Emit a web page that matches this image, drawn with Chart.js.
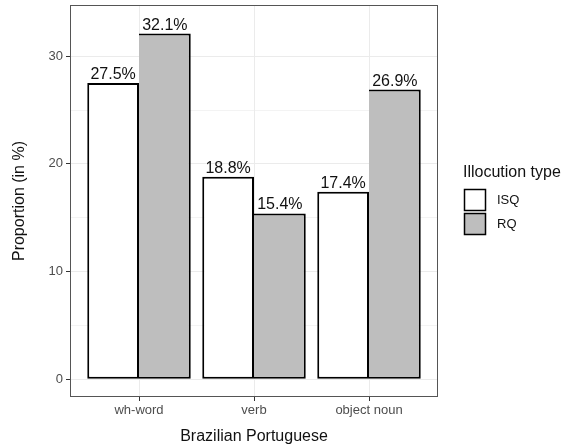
<!DOCTYPE html>
<html>
<head>
<meta charset="utf-8">
<script src="https://cdn.jsdelivr.net/npm/chart.js@4.4.1/dist/chart.umd.min.js"></script>
<style>
  html, body { margin: 0; padding: 0; background: #fff; }
  #wrap { width: 569px; height: 445px; }
</style>
</head>
<body>
<div id="wrap"><canvas id="myChart" width="569" height="445"></canvas></div>
<script>
const categories = ["wh-word", "verb", "object noun"];
const isqValues = [27.5, 18.8, 17.4];
const rqValues = [32.1, 15.4, 26.9];
const seriesNames = ["ISQ", "RQ"];
const seriesFills = ["#ffffff", "#bebebe"];
const yTicks = [0, 5, 10, 15, 20, 25, 30];

const FONT = "'Liberation Sans', Arial, Helvetica, sans-serif";

// value labels above bars + panel border + legend
const extras = {
  id: "extras",
  afterDatasetsDraw(chart) {
    const ctx = chart.ctx;
    ctx.save();
    ctx.font = "16px " + FONT;
    ctx.fillStyle = "#111";
    ctx.textAlign = "center";
    ctx.textBaseline = "alphabetic";
    chart.data.datasets.forEach((ds, di) => {
      const meta = chart.getDatasetMeta(di);
      meta.data.forEach((bar, i) => {
        ctx.fillText(ds.data[i].y.toFixed(1) + "%", bar.x, bar.y - 4);
      });
    });
    ctx.restore();
  },
  afterDraw(chart) {
    const ctx = chart.ctx;
    const a = chart.chartArea;
    ctx.save();
    ctx.strokeStyle = "#555";
    ctx.lineWidth = 1;
    ctx.strokeRect(a.left + 0.5, a.top + 0.5, a.right - a.left - 1, a.bottom - a.top - 1);

    // legend
    const lx = a.right + 25;
    ctx.fillStyle = "#111";
    ctx.font = "16px " + FONT;
    ctx.textAlign = "left";
    ctx.textBaseline = "middle";
    ctx.fillText("Illocution type", lx, 173);
    seriesNames.forEach((name, i) => {
      const ky = 188 + i * 24;
      ctx.fillStyle = seriesFills[i];
      ctx.fillRect(lx + 1, ky + 1, 22, 22);
      ctx.strokeStyle = "#000";
      ctx.lineWidth = 1.5;
      ctx.strokeRect(lx + 1.5, ky + 1.5, 21, 21);
      ctx.fillStyle = "#111";
      ctx.font = "13px " + FONT;
      ctx.fillText(name, lx + 34, ky + 12);
    });
    ctx.restore();
  }
};

function noPad(s) {
  s.paddingTop = 0; s.paddingBottom = 0; s.paddingLeft = 0; s.paddingRight = 0;
}

new Chart(document.getElementById("myChart"), {
  type: "bar",
  data: {
    datasets: [
      {
        label: seriesNames[0],
        data: isqValues.map((v, i) => ({ x: i, y: v })),
        backgroundColor: seriesFills[0],
        borderColor: "#000",
        borderWidth: 2,
        borderSkipped: false
      },
      {
        label: seriesNames[1],
        data: rqValues.map((v, i) => ({ x: i, y: v })),
        backgroundColor: seriesFills[1],
        borderColor: "#000",
        // shared edge with the ISQ bar is drawn once, by ISQ
        borderWidth: { top: 2, right: 2, bottom: 2, left: 0 },
        borderSkipped: false
      }
    ]
  },
  options: {
    responsive: false,
    animation: false,
    categoryPercentage: 0.9,
    barPercentage: 1.0,
    layout: { padding: { left: 0, top: 5, right: 131, bottom: 0 } },
    plugins: {
      legend: { display: false },
      tooltip: { enabled: false }
    },
    scales: {
      x: {
        type: "linear",
        min: -0.6,
        max: 2.6,
        offset: false,
        afterBuildTicks: (s) => { s.ticks = categories.map((c, i) => ({ value: i })); },
        afterFit: (s) => { s.height = 48; noPad(s); },
        ticks: {
          callback: (v) => categories[v],
          color: "#4d4d4d",
          font: { family: FONT, size: 13 },
          padding: 2,
          maxRotation: 0,
          autoSkip: false
        },
        grid: {
          offset: false,
          color: "#ebebeb",
          lineWidth: 1,
          tickColor: "#333",
          tickLength: 4
        },
        border: { display: false },
        title: {
          display: true,
          text: "Brazilian Portuguese",
          color: "#111",
          font: { family: FONT, size: 16, lineHeight: 1 },
          padding: { top: 0, bottom: 0 }
        }
      },
      y: {
        type: "linear",
        min: -1.655,
        max: 34.755,
        afterBuildTicks: (s) => { s.ticks = yTicks.map(v => ({ value: v })); },
        afterFit: (s) => { s.width = 70; noPad(s); },
        ticks: {
          callback: (v) => (v % 10 === 0 ? String(v) : ""),
          color: "#4d4d4d",
          font: { family: FONT, size: 13 },
          padding: 3,
          autoSkip: false
        },
        grid: {
          color: "#ebebeb",
          lineWidth: (c) => (c.tick && c.tick.value % 10 === 0 ? 1 : 0.6),
          tickColor: (c) => (c.tick && c.tick.value % 10 === 0 ? "#333" : "rgba(0,0,0,0)"),
          tickLength: 4
        },
        border: { display: false },
        title: {
          display: true,
          text: "Proportion (in %)",
          color: "#111",
          font: { family: FONT, size: 16, lineHeight: 1 },
          padding: { top: 12, bottom: 0 }
        }
      }
    }
  },
  plugins: [extras]
});
</script>
</body>
</html>
